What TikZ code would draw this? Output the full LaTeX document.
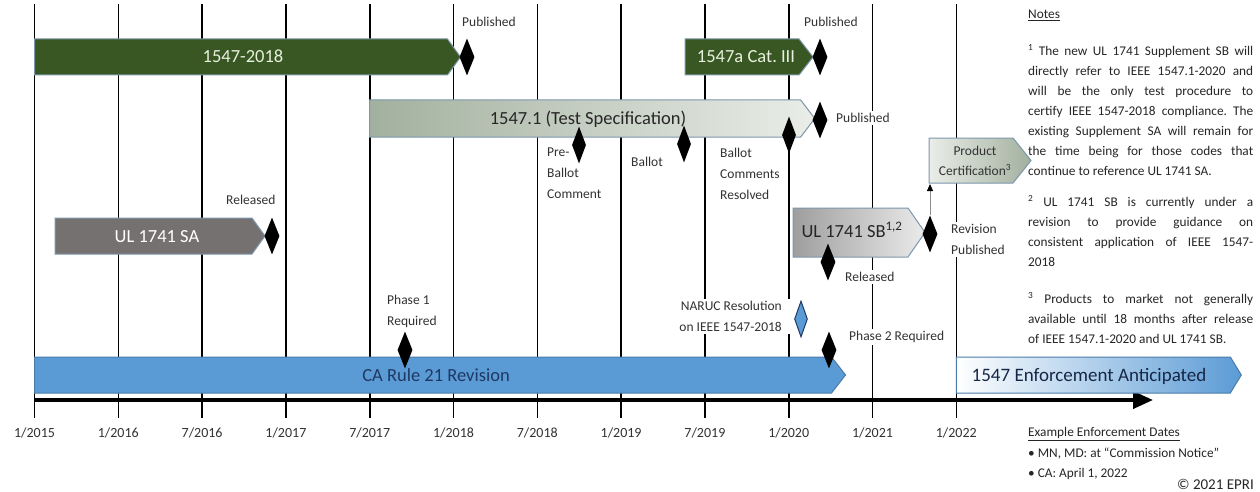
\documentclass[tikz,border=0pt]{standalone}
\usepackage{fontspec}
\setmainfont{Carlito}
\usetikzlibrary{arrows.meta,shapes.geometric,positioning}

\definecolor{stdgreen}{RGB}{56,87,35}
\definecolor{stdgreentext}{RGB}{232,240,222}
\definecolor{slate}{RGB}{118,113,113}
\definecolor{rulblue}{RGB}{91,155,213}
\definecolor{navytext}{RGB}{31,56,100}
\definecolor{barline}{RGB}{125,150,172}
\definecolor{specdark}{RGB}{162,176,158}
\definecolor{speclight}{RGB}{234,237,232}
\definecolor{labeltext}{RGB}{50,50,50}

\frenchspacing

\begin{document}
\begin{tikzpicture}[x=1pt, y=-1pt]
      \tikzset{
	  gridline/.style={black, line width=1.6pt},
	  greenbar/.style={fill=stdgreen, draw=barline, line width=1pt},
	  specbar/.style={left color=specdark, right color=speclight, draw=barline, line width=1pt},
	  certbar/.style={left color=speclight, right color=specdark, draw=barline, line width=1pt},
	  sabar/.style={fill=slate, draw=barline, line width=1pt},
	  sbbar/.style={left color=black!38, right color=black!8, draw=barline, line width=1pt},
	  rulebar/.style={fill=rulblue, draw=rulblue!80!black, line width=1pt},
	  enforcebar/.style={left color=white, right color=rulblue, draw=rulblue!80!black, line width=1pt},
	  bartext/.style={font=\fontsize{18.5}{22}\selectfont, text height=12pt, text depth=0pt, inner sep=0pt},
	  milestone/.style={diamond, fill=black, minimum width=15pt, minimum height=37pt, inner sep=0pt},
	  tag/.style={font=\fontsize{13.5}{21}\selectfont, text=labeltext, fill=white, inner sep=2pt, align=left, anchor=north west},
	  datetext/.style={font=\fontsize{14}{16}\selectfont, text=labeltext, text height=9pt, text depth=0pt, inner sep=0pt},
	  notetext/.style={font=\fontsize{13.3}{20}\selectfont, text=black!85, inner sep=0pt, anchor=north west},
	  timeaxis/.style={line width=4pt, -{Triangle[length=20pt,width=17pt]}},
	  certarrow/.style={draw=black!45, line width=1pt, -{Triangle[length=7pt,width=6pt,black]}}
      }
      \def\barpath#1#2#3{-- ++(#1,0) -- ++(#3,#2/2) -- ++(-#3,#2/2) -- ++(-#1,0) -- cycle}

      \path[use as bounding box, fill=white] (0,0) rectangle (1260,492);

      \foreach \when [count=\i from 0] in {1/2015,1/2016,7/2016,1/2017,7/2017,1/2018,7/2018,1/2019,7/2019,1/2020,1/2021,1/2022} {
	  \draw[gridline] ({34.5+83.8*\i},4) -- ({34.5+83.8*\i},418);
	  \node at ({34.5+83.8*\i},433) [datetext] (date\i) {\when};
      }
      \coordinate (axstart) at (34.5,400);
      \coordinate (axend) at (1153,400);
      \draw[timeaxis] (axstart) -- (axend);

      % standards and rules
      \draw (34.5,39) [greenbar] \barpath{413}{36}{13};
      \node at (243,57) [bartext, text=stdgreentext] (std2018) {1547-2018};
      \draw (685,39) [greenbar] \barpath{114}{36}{14};
      \node at (746,57) [bartext, text=stdgreentext] (catiii) {1547a Cat. III};
      \draw (369.7,100) [specbar] \barpath{431}{37}{14};
      \node at (588,118.5) [bartext, text=black!85] (testspec) {1547.1 (Test Specification)};
      \draw (55,218) [sabar] \barpath{197}{36}{13};
      \node at (157,236) [bartext, text=white] (ulsa) {UL 1741 SA};
      \draw (793,208) [sbbar] \barpath{115}{49}{17};
      \node at (852,231) [bartext, text=black!85] (ulsb) {UL 1741 SB\textsuperscript{1,2}};
      \draw (929,138) [certbar] \barpath{84}{45}{18};
      \node at (975,161) [font=\fontsize{13.5}{20}\selectfont, text=black!80, align=center, inner sep=0pt] (prodcert) {Product\\Certification\textsuperscript{3}};
      \coordinate (certbase) at (930,184);
      \draw (34.5,357) [rulebar] \barpath{797}{36}{14};
      \node at (436,375) [bartext, text=navytext] (rule21) {CA Rule 21 Revision};
      \draw (956.3,357) [enforcebar] \barpath{274}{36}{11};
      \node at (1089,375) [bartext, font=\fontsize{19}{22}\selectfont, text=navytext!70!black] (enforce) {1547 Enforcement Anticipated};

      % milestone labels
      \node at (460,15) [tag] (pubstd) {Published};
      \node at (802,15) [tag] (pubcat) {Published};
      \node at (834,111) [tag] (pubspec) {Published};
      \node at (545,146) [tag] (preballottxt) {Pre-\\Ballot\\Comment};
      \node at (629,155) [tag] (ballottxt) {Ballot};
      \node at (718,146) [tag] (resolvedtxt) {Ballot\\Comments\\Resolved};
      \node at (224,193) [tag] (relsatxt) {Released};
      \node at (843,270) [tag] (relsbtxt) {Released};
      \node at (949,222) [tag] (revtxt) {Revision\\Published};
      \node at (385,293) [tag] (phaseonetxt) {Phase 1\\Required};
      \node at (791,299) [tag, anchor=north east, align=right, inner xsep=9pt] (naructxt) {NARUC Resolution\\on IEEE 1547-2018};
      \node at (847,329) [tag] (phasetwotxt) {Phase 2 Required};

      % milestones
      \node at (467,57) [milestone] (msstd) {};
      \node at (820,57) [milestone] (mscat) {};
      \node at (820,120) [milestone] (msspec) {};
      \node at (579,145) [milestone, minimum width=14pt] (mspreballot) {};
      \node at (684,144) [milestone, minimum width=14pt] (msballot) {};
      \node at (789,135) [milestone, minimum width=14pt] (msresolved) {};
      \node at (272,236) [milestone] (msrelsa) {};
      \node at (828,262) [milestone] (msrelsb) {};
      \node at (930,234) [milestone] (msrev) {};
      \node at (405,350) [milestone] (msphaseone) {};
      \node at (801,319) [milestone, fill=rulblue, draw=navytext, line width=1pt, minimum width=13pt, minimum height=36pt] (msnaruc) {};
      \node at (829,350) [milestone] (msphasetwo) {};
      \draw[certarrow] (msrev) -- (certbase);

      % notes column
      \node at (1028,10) [notetext] (notes) {\underline{Notes}};
      \node at (1028,44) [notetext, text width=225pt, align=justify] (noteone) {\hyphenpenalty=10000\exhyphenpenalty=10000
	\textsuperscript{1} The new UL 1741 Supplement SB will\linebreak directly refer to IEEE 1547.1-2020 and\linebreak will be the only test procedure to\linebreak certify IEEE 1547-2018 compliance. The\linebreak existing Supplement SA will remain for\linebreak the time being for those codes that\linebreak continue to reference UL 1741 SA.};
      \node at (1028,195) [notetext, text width=225pt, align=justify] (notetwo) {\hyphenpenalty=10000\exhyphenpenalty=10000
	\textsuperscript{2} UL 1741 SB is currently under a\linebreak revision to provide guidance on\linebreak consistent application of IEEE 1547-\linebreak 2018};
      \node at (1028,292) [notetext, text width=225pt, align=justify] (notethree) {\hyphenpenalty=10000\exhyphenpenalty=10000
	\textsuperscript{3} Products to market not generally\linebreak available until 18 months after release\linebreak of IEEE 1547.1-2020 and UL 1741 SB.};
      \node at (1028,427) [notetext] (examples) {\underline{Example Enforcement Dates}};
      \node at (1028,448) [notetext, align=left] (exlist) {• MN, MD: at “Commission Notice”\\• CA: April 1, 2022};
      \node at (1254,479) [notetext, anchor=north east, font=\fontsize{15}{18}\selectfont] (epri) {© 2021 EPRI};
\end{tikzpicture}
\end{document}
